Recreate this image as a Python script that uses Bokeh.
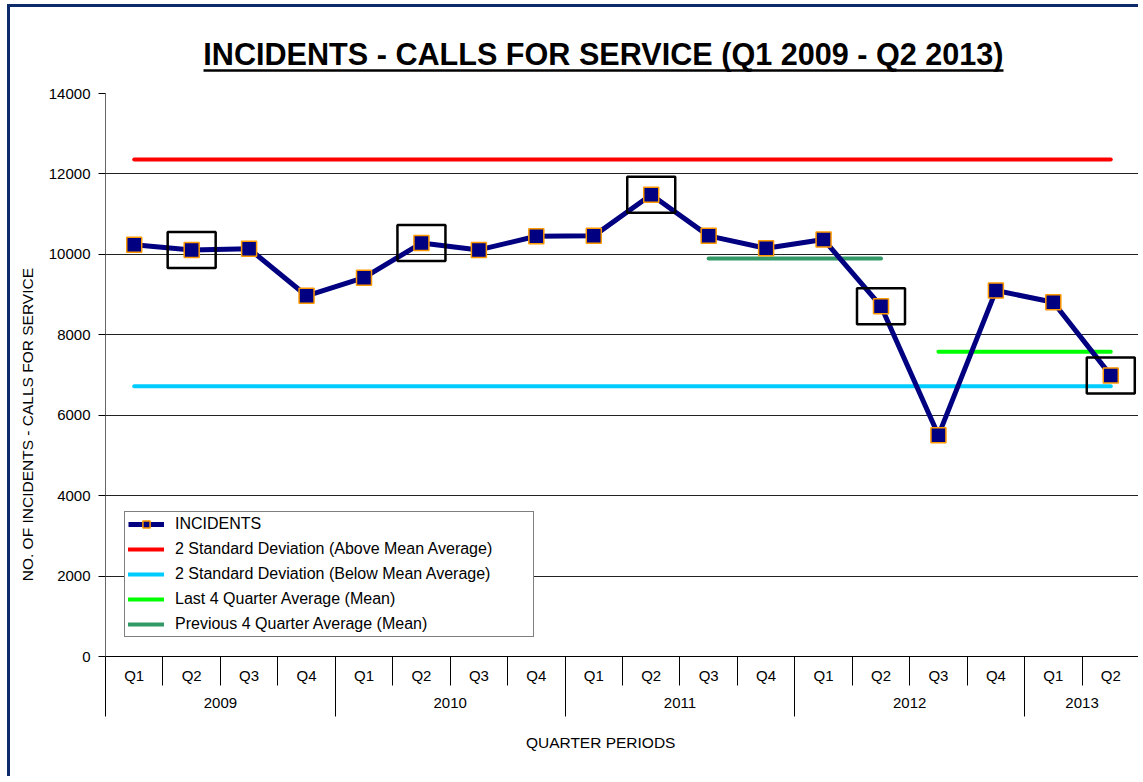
import math
from bokeh.plotting import figure
from bokeh.models import Range1d, LinearAxis, FixedTicker, Legend, LegendItem
from bokeh.embed import file_html
from bokeh.resources import INLINE

# ---------------- data ----------------
years = ["2009"] * 4 + ["2010"] * 4 + ["2011"] * 4 + ["2012"] * 4 + ["2013"] * 2
quarters = ["Q1", "Q2", "Q3", "Q4"] * 4 + ["Q1", "Q2"]
incidents = [10240, 10110, 10140, 8970, 9420, 10280, 10110, 10450, 10460,
             11480, 10460, 10150, 10370, 8710, 5500, 9100, 8810, 6990]
sd_above = 12360          # 2 Standard Deviation (Above Mean Average)
sd_below = 6720           # 2 Standard Deviation (Below Mean Average)
last4_mean = 7580         # Last 4 Quarter Average (Mean)
prev4_mean = 9900         # Previous 4 Quarter Average (Mean)
last4_span = [("2012", "Q3"), ("2013", "Q2")]
prev4_span = [("2011", "Q3"), ("2012", "Q2")]
highlight = [("2009", "Q2"), ("2010", "Q2"), ("2011", "Q2"), ("2012", "Q2"), ("2013", "Q2")]
y_ticks = [0, 2000, 4000, 6000, 8000, 10000, 12000, 14000]

title_text = "INCIDENTS - CALLS FOR SERVICE (Q1 2009 - Q2 2013)"
x_title = "QUARTER PERIODS"
y_title = "NO. OF INCIDENTS  - CALLS FOR SERVICE"

FONT = "Liberation Sans"
NAVY = "#000080"

factors = list(zip(years, quarters))
n = len(factors)
# category slots: each quarter occupies one unit on the x scale, centred at i + 0.5
xpos = [i + 0.5 for i in range(n)]
def pos(f):
    return xpos[factors.index(f)]

p = figure(x_range=Range1d(0, n), y_range=Range1d(0, 14000), width=1131, height=772,
           output_backend="svg", toolbar_location=None, x_axis_location=None,
           min_border_left=95, min_border_right=2, min_border_top=86,
           min_border_bottom=123)
p.styles = {"border-left": "3px solid #0d2b6b", "border-top": "3px solid #0d2b6b",
            "margin-left": "7px", "margin-top": "4px"}
p.outline_line_color = None
p.background_fill_color = "white"
p.border_fill_color = "white"
p.xgrid.grid_line_color = None

# y axis / grid
p.yaxis.ticker = FixedTicker(ticks=y_ticks)
p.yaxis.axis_line_color = "#666666"
p.yaxis.major_tick_line_color = "black"
p.yaxis.major_tick_out = 7
p.yaxis.major_tick_in = 0
p.yaxis.minor_tick_line_color = None
p.yaxis.major_label_text_font = FONT
p.yaxis.major_label_text_font_size = "15px"
p.yaxis.major_label_text_color = "black"
p.yaxis.major_label_standoff = 8
p.ygrid.grid_line_color = "#222222"
p.ygrid.grid_line_width = 1

# ---------- two-level category axis (quarters / years) with separators ----------
bounds = list(range(n + 1))
year_names = []
year_bounds = [0]
for i, y in enumerate(years):
    if not year_names or year_names[-1] != y:
        if year_names:
            year_bounds.append(i)
        year_names.append(y)
year_bounds.append(n)
year_centers = [(year_bounds[k] + year_bounds[k + 1]) / 2 for k in range(len(year_names))]


def text_axis(ticks, labels, standoff, size="15px", style="normal", **kw):
    opts = dict(major_tick_line_color=None, major_tick_out=0, major_tick_in=0,
                minor_tick_line_color=None, minor_tick_out=0, minor_tick_in=0,
                axis_line_color=None)
    opts.update(kw)
    return LinearAxis(ticker=FixedTicker(ticks=ticks, minor_ticks=opts.pop("minor", [])),
                      major_label_overrides={t: s for t, s in zip(ticks, labels)},
                      major_label_standoff=standoff,
                      major_label_text_font=FONT, major_label_text_font_size=size,
                      major_label_text_font_style=style, major_label_text_color="black",
                      **opts)


# quarter row: labels + quarter separators (minor ticks) + axis line
q_ax = text_axis(xpos, quarters, -19, minor=bounds, minor_tick_line_color="black",
                 minor_tick_out=29, axis_line_color="black")
# year row: labels + year separators
y_ax = text_axis(year_centers, year_names, -19, minor=year_bounds,
                 minor_tick_line_color="black", minor_tick_in=20, minor_tick_out=30)
# axis title row
xt_ax = text_axis([8.62], [x_title], 23, size="15.5px")
p.add_layout(q_ax, "below")
p.add_layout(y_ax, "below")
p.add_layout(xt_ax, "below")

# y axis title (as a rotated label centred where the original sits)
yt_ax = text_axis([5819], [y_title], 9, size="15.5px", major_label_orientation="vertical")
p.add_layout(yt_ax, "left")

# title: an invisible spacer row, then an axis whose line (limited by bounds) is the underline
spacer = text_axis([9.0], [" "], 0, size="1px", major_tick_out=19)
t_ax = text_axis([8.668], [title_text], 0, size="30.6px", style="bold",
                 bounds=(1.706, 15.63), axis_line_color="black", axis_line_width=2.5)
p.add_layout(spacer, "above")
p.add_layout(t_ax, "above")

# horizontal reference lines
r_above = p.line(x=[xpos[0], xpos[-1]], y=[sd_above, sd_above],
                 line_color="#FF0000", line_width=4, line_cap="round")
r_below = p.line(x=[xpos[0], xpos[-1]], y=[sd_below, sd_below],
                 line_color="#00CCFF", line_width=4, line_cap="round")
r_last = p.line(x=[pos(f) for f in last4_span], y=[last4_mean, last4_mean],
                line_color="#00FF00", line_width=4, line_cap="round")
r_prev = p.line(x=[pos(f) for f in prev4_span], y=[prev4_mean, prev4_mean],
                line_color="#339966", line_width=4, line_cap="round")

# incidents series
r_line = p.line(x=xpos, y=incidents, line_color=NAVY, line_width=5, line_join="round")
r_pts = p.scatter(x=xpos, y=incidents, marker="square", size=15,
                  fill_color=NAVY, line_color="#FF9900", line_width=1.5)
hl_vals = [incidents[factors.index(h)] for h in highlight]
p.rect(x=[pos(h) for h in highlight], y=hl_vals, width=48, height=36, width_units="screen",
       height_units="screen", fill_color=None, line_color="black", line_width=2.5)

legend = Legend(items=[
    LegendItem(label="INCIDENTS", renderers=[r_line, r_pts]),
    LegendItem(label="2 Standard Deviation (Above Mean Average)", renderers=[r_above]),
    LegendItem(label="2 Standard Deviation (Below Mean Average)", renderers=[r_below]),
    LegendItem(label="Last 4 Quarter Average (Mean)", renderers=[r_last]),
    LegendItem(label="Previous 4 Quarter Average (Mean)", renderers=[r_prev]),
], location=(19, 19))
legend.label_text_font = FONT
legend.label_text_font_size = "16px"
legend.label_text_color = "black"
legend.border_line_color = "black"
legend.border_line_width = 1
legend.background_fill_color = "white"
legend.background_fill_alpha = 1
legend.padding = 3
legend.spacing = 7
legend.label_height = 18
legend.glyph_height = 18
legend.glyph_width = 36
legend.label_standoff = 11
legend.label_width = 355
legend.margin = 0
p.add_layout(legend)

open("out.html", "w").write(file_html(p, INLINE))
